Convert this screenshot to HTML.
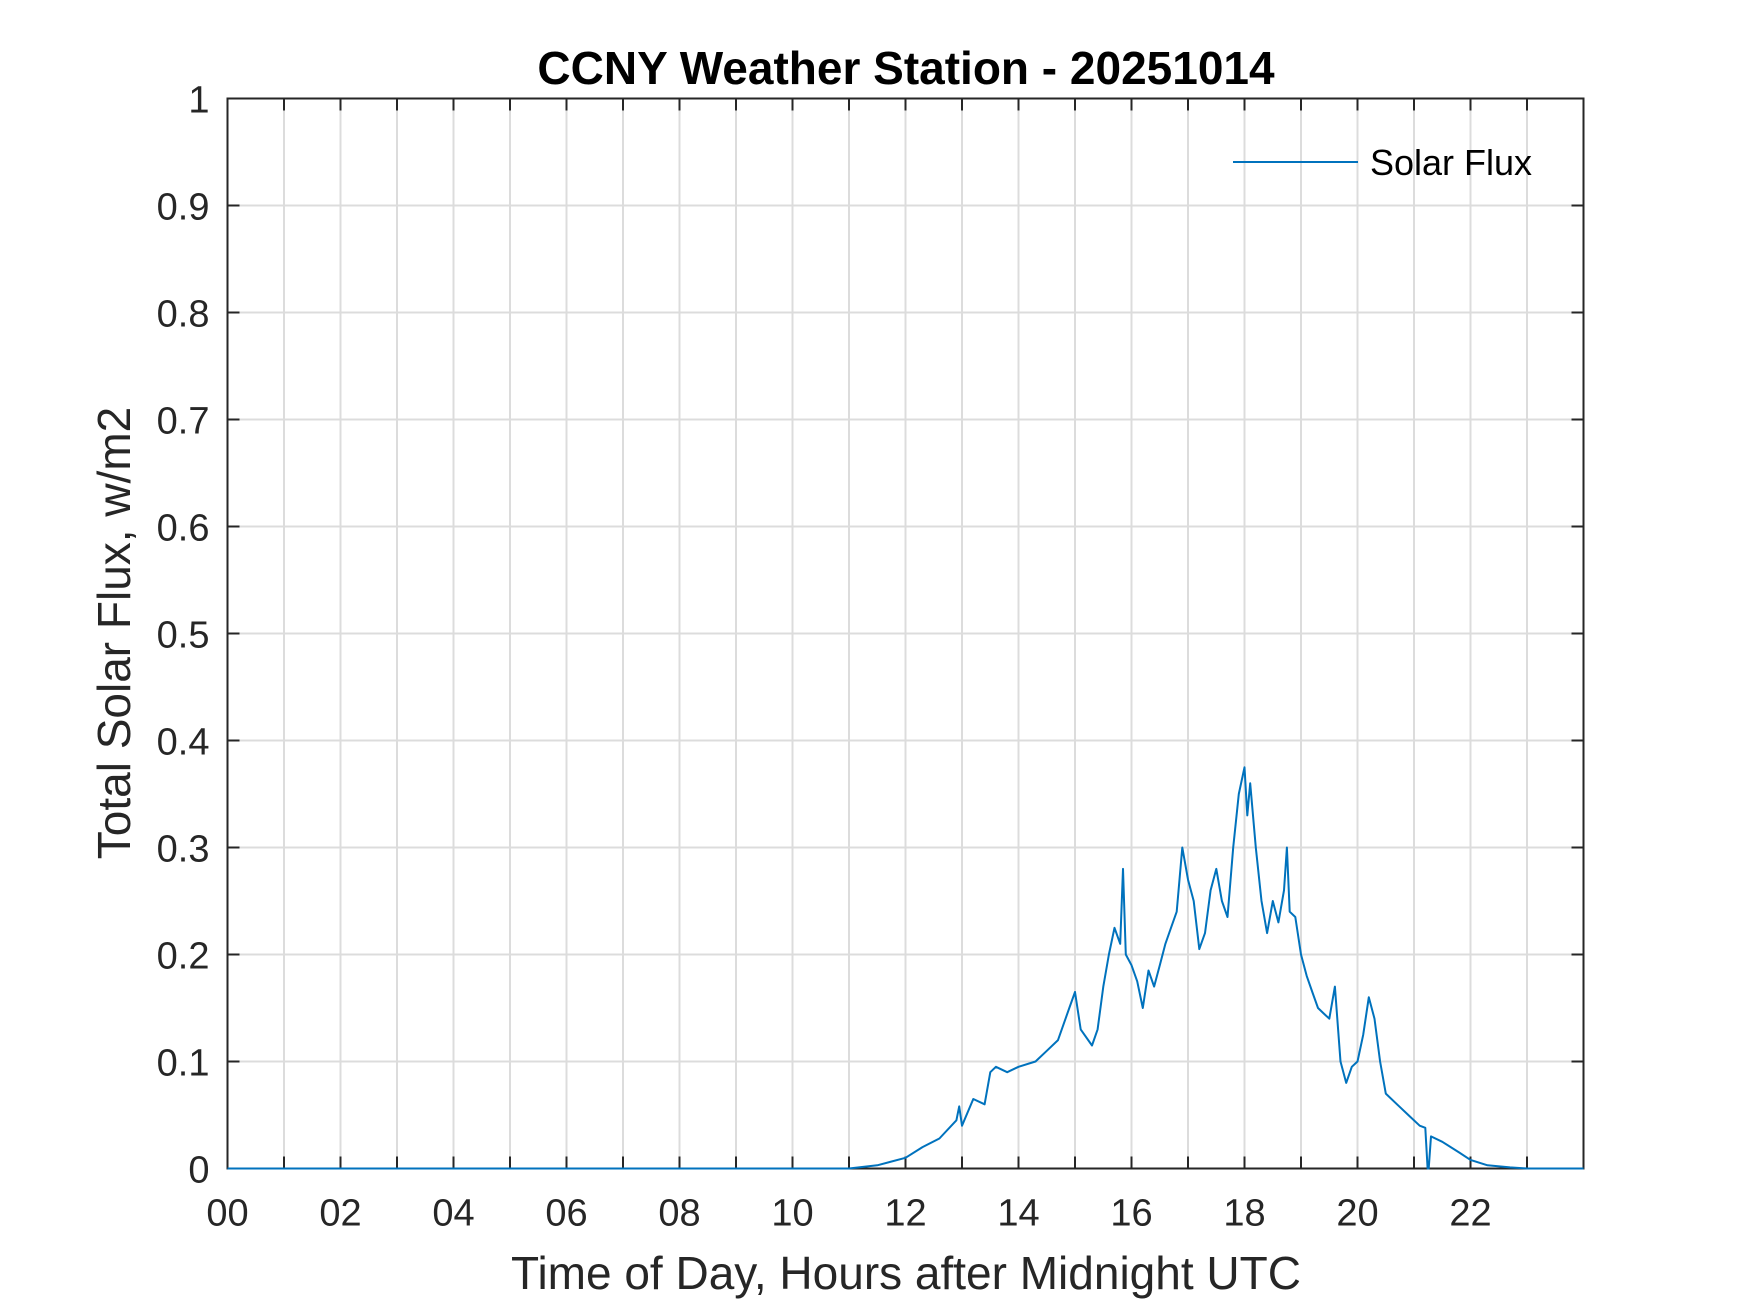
<!DOCTYPE html>
<html><head><meta charset="utf-8"><style>
html,body{margin:0;padding:0;background:#fff;}
svg{display:block;font-family:"Liberation Sans",Arial,sans-serif;}
</style></head><body>
<svg id="chart" width="1750" height="1313" viewBox="0 0 1750 1313">
<rect x="0" y="0" width="1750" height="1313" fill="#fff"/>
<g id="grid"></g>
<g id="axes"></g>
<g id="series"></g>
<text x="906" y="84" text-anchor="middle" font-size="46" font-weight="bold" fill="#000">CCNY Weather Station - 20251014</text>
<text x="906" y="1289" text-anchor="middle" font-size="46" fill="#262626">Time of Day, Hours after Midnight UTC</text>
<text transform="translate(130,633) rotate(-90)" text-anchor="middle" font-size="46" fill="#262626">Total Solar Flux, w/m2</text>
<g>
<line x1="1233" y1="162" x2="1358" y2="162" stroke="#0072BD" stroke-width="2"/>
<text x="1370" y="175" font-size="36" fill="#000">Solar Flux</text>
</g>
</svg>
<script>
const hours = [0,11.0,11.5,12.0,12.3,12.6,12.9,12.95,13.0,13.2,13.4,13.5,13.6,13.8,14.0,14.3,14.5,14.7,14.9,15.0,15.1,15.3,15.4,15.5,15.6,15.7,15.8,15.85,15.9,16.0,16.1,16.2,16.3,16.4,16.5,16.6,16.7,16.8,16.9,17.0,17.1,17.2,17.3,17.4,17.5,17.6,17.7,17.8,17.9,18.0,18.05,18.1,18.2,18.3,18.4,18.5,18.6,18.7,18.75,18.8,18.9,19.0,19.1,19.2,19.3,19.4,19.5,19.6,19.7,19.8,19.9,20.0,20.1,20.2,20.3,20.4,20.5,20.7,20.9,21.1,21.2,21.24,21.26,21.3,21.5,21.8,22.0,22.3,22.7,23.0,24.0];
const flux = [0,0,0.003,0.01,0.02,0.028,0.045,0.058,0.04,0.065,0.06,0.09,0.095,0.09,0.095,0.1,0.11,0.12,0.15,0.165,0.13,0.115,0.13,0.17,0.2,0.225,0.21,0.28,0.2,0.19,0.175,0.15,0.185,0.17,0.19,0.21,0.225,0.24,0.3,0.27,0.25,0.205,0.22,0.26,0.28,0.25,0.235,0.3,0.35,0.375,0.33,0.36,0.3,0.25,0.22,0.25,0.23,0.26,0.3,0.24,0.235,0.2,0.18,0.165,0.15,0.145,0.14,0.17,0.1,0.08,0.095,0.1,0.125,0.16,0.14,0.1,0.07,0.06,0.05,0.04,0.038,0,0,0.03,0.025,0.015,0.008,0.003,0.001,0,0];
const xTicks = [0,2,4,6,8,10,12,14,16,18,20,22];
const xTickLabels = ["00","02","04","06","08","10","12","14","16","18","20","22"];
const yTicks = [0,0.1,0.2,0.3,0.4,0.5,0.6,0.7,0.8,0.9,1];
const yTickLabels = ["0","0.1","0.2","0.3","0.4","0.5","0.6","0.7","0.8","0.9","1"];

const L=227.5,R=1583.5,T=98.5,B=1168.5;
const xs=h=>L+(h/24)*(R-L);
const ys=v=>B-v*(B-T);
const NS="http://www.w3.org/2000/svg";
function mk(tag,parent){const e=document.createElementNS(NS,tag);parent.appendChild(e);return e;}
const grid=document.getElementById('grid'),axes=document.getElementById('axes'),series=document.getElementById('series');

for(let h=1;h<24;h++){
  const l=mk('line',grid);
  
  
  l.setAttribute('x1',xs(h));l.setAttribute('x2',xs(h));l.setAttribute('y1',T);l.setAttribute('y2',B);
  l.setAttribute('stroke','#dcdcdc');l.setAttribute('stroke-width','2');
  for(const [y0,y1] of [[B,B-12],[T,T+12]]){
    const t=mk('line',axes);
    
    
    t.setAttribute('x1',xs(h));t.setAttribute('x2',xs(h));t.setAttribute('y1',y0);t.setAttribute('y2',y1);
    t.setAttribute('stroke','#262626');t.setAttribute('stroke-width','2');
  }
}
yTicks.forEach((v,i)=>{
  if(v>0&&v<1){
    const l=mk('line',grid);
    
    
    l.setAttribute('x1',L);l.setAttribute('x2',R);l.setAttribute('y1',ys(v));l.setAttribute('y2',ys(v));
    l.setAttribute('stroke','#dcdcdc');l.setAttribute('stroke-width','2');
    for(const [x0,x1] of [[L,L+12],[R,R-12]]){
      const t=mk('line',axes);
      
      
      t.setAttribute('x1',x0);t.setAttribute('x2',x1);t.setAttribute('y1',ys(v));t.setAttribute('y2',ys(v));
      t.setAttribute('stroke','#262626');t.setAttribute('stroke-width','2');
    }
  }
  const tx=mk('text',axes);
  
  
  tx.setAttribute('x',L-18);tx.setAttribute('y',ys(v)+14);tx.setAttribute('text-anchor','end');
  tx.setAttribute('font-size','38');tx.setAttribute('fill','#262626');
  tx.textContent=yTickLabels[i];
});
xTicks.forEach((h,i)=>{
  const tx=mk('text',axes);
  
  
  tx.setAttribute('x',xs(h));tx.setAttribute('y',B+57);tx.setAttribute('text-anchor','middle');
  tx.setAttribute('font-size','38');tx.setAttribute('fill','#262626');
  tx.textContent=xTickLabels[i];
});
const box=mk('rect',axes);


box.setAttribute('x',L);box.setAttribute('y',T);box.setAttribute('width',R-L);box.setAttribute('height',B-T);
box.setAttribute('fill','none');box.setAttribute('stroke','#262626');box.setAttribute('stroke-width','2');

const p=mk('path',series);


p.setAttribute('d',hours.map((h,i)=>(i?'L':'M')+xs(h).toFixed(1)+' '+ys(flux[i]).toFixed(1)).join(' '));
p.setAttribute('fill','none');p.setAttribute('stroke','#0072BD');p.setAttribute('stroke-width','2');
p.setAttribute('stroke-linejoin','round');
</script>
</body></html>
